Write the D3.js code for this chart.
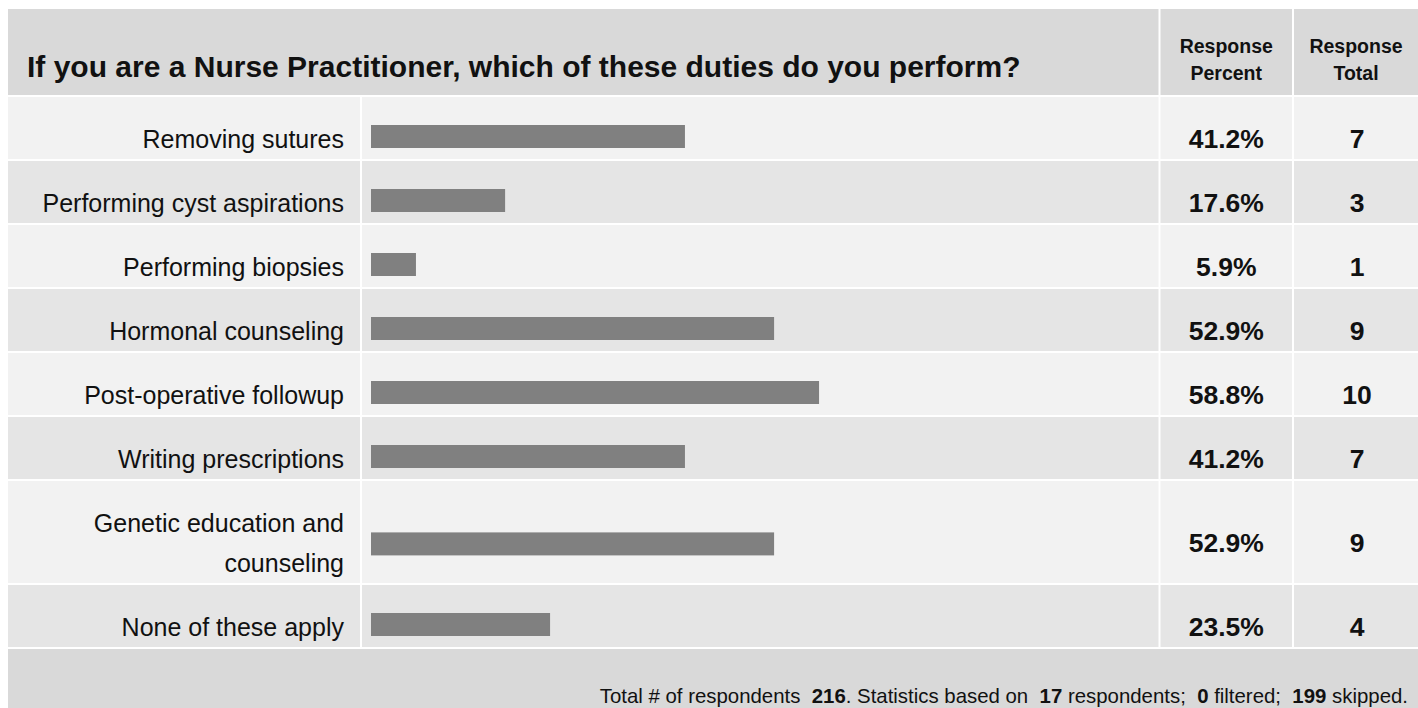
<!DOCTYPE html>
<html>
<head>
<meta charset="utf-8">
<script src="https://cdn.jsdelivr.net/npm/d3@7"></script>
<style>
  html, body { margin: 0; padding: 0; background: #ffffff; }
  svg { display: block; font-family: "Liberation Sans", Arial, Helvetica, sans-serif; }
</style>
</head>
<body>
<svg id="chart" width="1418" height="708"></svg>
<script>
// ---- data ----
const title = "If you are a Nurse Practitioner, which of these duties do you perform?";
const headerPercent = ["Response", "Percent"];
const headerTotal = ["Response", "Total"];
const categories = [
  "Removing sutures",
  "Performing cyst aspirations",
  "Performing biopsies",
  "Hormonal counseling",
  "Post-operative followup",
  "Writing prescriptions",
  "Genetic education and counseling",
  "None of these apply"
];
const percents = [41.2, 17.6, 5.9, 52.9, 58.8, 41.2, 52.9, 23.5];
const totals = [7, 3, 1, 9, 10, 7, 9, 4];
const totalRespondents = 216;
const answered = 17;
const filtered = 0;
const skipped = 199;

(function () {
// ---- layout ----
const svg = d3.select("#chart");
const W = 1418, H = 708;
const leftX = 8, rightX = 1418, topY = 9;
const headerH = 86, gap = 2;
const baseRowH = 62, lineH = 40;
const labelCol = [leftX, 360], barCol = [362, 1158.5], pctCol = [1160.5, 1292], totCol = [1294, rightX];
const labelRight = 344;
const labelMaxW = 320;
const labelFont = 25;

const C = { header: "#d9d9d9", rowA: "#f2f2f2", rowB: "#e5e5e5", footer: "#d9d9d9", bar: "#808080", text: "#111111" };

// measure helper for wrapping
const measurer = svg.append("text").attr("font-size", labelFont).attr("visibility", "hidden");
function textW(s) { measurer.text(s); return measurer.node().getComputedTextLength(); }
function wrap(s) {
  const words = s.split(" ");
  const lines = [];
  let cur = "";
  words.forEach(w => {
    const t = cur ? cur + " " + w : w;
    if (cur && textW(t) > labelMaxW) { lines.push(cur); cur = w; } else cur = t;
  });
  if (cur) lines.push(cur);
  return lines;
}

const rows = categories.map((c, i) => ({ label: c, lines: wrap(c), pct: percents[i], total: totals[i], i }));
measurer.remove();
let yy = topY + headerH + gap;
rows.forEach(r => {
  r.h = baseRowH + lineH * (r.lines.length - 1);
  r.y = yy;
  r.cy = yy + r.h / 2;
  yy += r.h + gap;
});
const footerY = yy;

// header background
svg.append("rect").attr("x", leftX).attr("y", topY).attr("width", rightX - leftX).attr("height", headerH).attr("fill", C.header);
svg.append("rect").attr("x", barCol[1]).attr("y", topY).attr("width", 2).attr("height", headerH).attr("fill", "#ffffff");
svg.append("rect").attr("x", pctCol[1]).attr("y", topY).attr("width", 2).attr("height", headerH).attr("fill", "#ffffff");

svg.append("text").attr("x", 27).attr("y", 77)
  .attr("font-size", 30).attr("font-weight", "bold").attr("fill", C.text).text(title);

function headerCell(lines, cx) {
  const t = svg.append("text").attr("text-anchor", "middle").attr("font-size", 19.5)
    .attr("font-weight", "bold").attr("fill", C.text);
  lines.forEach((l, k) => t.append("tspan").attr("x", cx).attr("y", 53 + k * 27).text(l));
}
headerCell(headerPercent, (pctCol[0] + pctCol[1]) / 2);
headerCell(headerTotal, (totCol[0] + totCol[1]) / 2);

// scales
const x = d3.scaleLinear().domain([0, 100]).range([0, 762]);
const barX = 371, barH = 23;

const g = svg.append("g");
const rowG = g.selectAll("g.row").data(rows).join("g").attr("class", "row");

// cells
const cols = [labelCol, barCol, pctCol, totCol];
cols.forEach(col => {
  rowG.append("rect")
    .attr("x", col[0]).attr("y", d => d.y)
    .attr("width", col[1] - col[0]).attr("height", d => d.h)
    .attr("fill", d => d.i % 2 === 0 ? C.rowA : C.rowB);
});

// labels
rowG.each(function (d) {
  const t = d3.select(this).append("text").attr("text-anchor", "end")
    .attr("font-size", labelFont).attr("fill", C.text);
  const n = d.lines.length;
  d.lines.forEach((l, k) => {
    t.append("tspan").attr("x", labelRight)
      .attr("y", d.cy + 20 + (k - (n - 1) / 2) * lineH).text(l);
  });
});

// bars
rowG.append("rect")
  .attr("x", barX)
  .attr("y", d => d.cy + 8.5 + 0.085 * (d.h - baseRowH) - barH / 2)
  .attr("width", d => x(d.pct))
  .attr("height", barH)
  .attr("fill", C.bar);

// percent and totals
rowG.append("text").attr("text-anchor", "middle")
  .attr("x", (pctCol[0] + pctCol[1]) / 2).attr("y", d => d.cy + 20)
  .attr("font-size", 26.5).attr("font-weight", "bold").attr("fill", C.text)
  .text(d => d.pct.toFixed(1) + "%");
rowG.append("text").attr("text-anchor", "middle")
  .attr("x", (totCol[0] + totCol[1]) / 2 + 1).attr("y", d => d.cy + 20)
  .attr("font-size", 26.5).attr("font-weight", "bold").attr("fill", C.text)
  .text(d => d.total);

// footer
svg.append("rect").attr("x", leftX).attr("y", footerY).attr("width", rightX - leftX).attr("height", H - footerY).attr("fill", C.footer);
const ft = svg.append("text").attr("x", 1408).attr("y", 703).attr("text-anchor", "end")
  .attr("font-size", 20.4).attr("fill", C.text).attr("xml:space", "preserve").style("white-space", "pre");
const parts = [
  ["Total # of respondents  ", false], [String(totalRespondents), true],
  [". Statistics based on  ", false], [String(answered), true],
  [" respondents;  ", false], [String(filtered), true],
  [" filtered;  ", false], [String(skipped), true],
  [" skipped.", false]
];
parts.forEach(([s, b]) => ft.append("tspan").attr("font-weight", b ? "bold" : "normal").text(s));
})();
</script>
</body>
</html>
